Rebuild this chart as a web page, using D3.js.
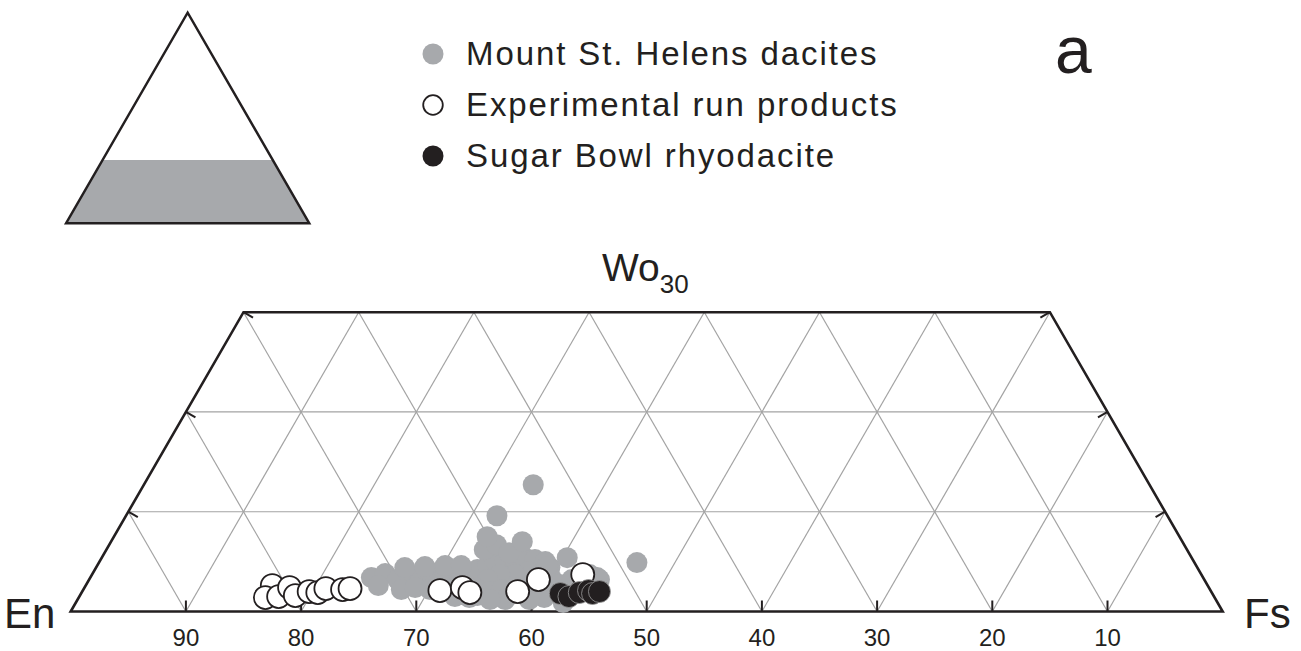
<!DOCTYPE html>
<html>
<head>
<meta charset="utf-8">
<script src="https://cdn.jsdelivr.net/npm/d3@7"></script>
<style>
  body{margin:0;background:#fff;}
  svg text{font-family:"Liberation Sans",Arial,Helvetica,sans-serif;fill:#231f20;}
</style>
</head>
<body>
<svg id="chart" width="1301" height="651"></svg>
<script>
// pyroxene compositions, [En, Wo] in mol% (Fs = 100 - En - Wo)
const mshDacites = [
  [72.2,3.4],[70.8,3.8],[70.0,3.2],[68.8,3.6],[70.2,2.2],[68.0,3.4],[66.8,3.7],[65.8,3.5],
  [64.7,4.0],[63.9,3.8],[68.9,2.4],[67.7,2.2],[66.3,2.4],[65.0,2.7],[63.8,3.2],[62.6,4.2],
  [61.5,4.6],[60.6,5.2],[59.8,5.0],[58.8,5.2],[57.9,5.4],[57.1,5.2],[56.3,5.0],[56.2,4.4],
  [57.4,3.7],[58.3,4.0],[59.6,3.7],[60.9,3.7],[62.2,3.2],[63.7,2.4],[65.2,1.7],[63.9,1.6],
  [62.6,2.0],[61.5,2.2],[60.3,2.4],[59.2,2.2],[58.1,2.4],[56.6,3.2],[56.2,2.7],[54.9,3.2],
  [54.7,2.2],[53.7,2.4],[53.2,2.0],[56.4,1.4],[58.2,1.4],[59.6,1.2],[61.7,1.2],[63.0,1.2],
  [64.7,1.4],[65.9,1.5],[53.1,3.7],[61.0,6.2],[59.7,6.7],[59.0,5.9],[57.3,7.0],[60.1,7.5],
  [52.5,3.2],[56.8,0.9],[52.6,3.4],[56.4,4.5],[72.0,2.6],[68.8,4.4],[67.0,4.5],[65.2,4.6],
  [63.8,4.6],[53.5,12.7],[58.2,9.6],[54.2,5.4],[48.4,4.9]
];
const expRuns = [
  [81.2,2.6],[82.4,1.4],[81.2,1.5],[79.8,2.4],[79.7,1.6],[78.3,2.0],[77.6,1.9],[76.7,2.3],
  [75.3,2.2],[74.6,2.3],[66.9,2.1],[64.8,2.4],[64.4,1.9],[60.2,2.0],[57.8,3.2],[53.7,3.7]
];
const sugarBowl = [
  [56.6,1.8],[56.0,1.5],[54.9,1.9],[54.0,2.1],[53.8,1.8],[53.1,2.0]
];
const enTicks = [90,80,70,60,50,40,30,20,10];
const woGrid = [10,20];
const woEdgeTicks = [10,20,30];
const woMax = 30;
const legendLabels = ["Mount St. Helens dacites","Experimental run products","Sugar Bowl rhyodacite"];

const ink = "#231f20", grey = "#a7a9ac", gridCol = "#a3a3a3";
const svg = d3.select("#chart");
const r3 = Math.sqrt(3)/2;

// main quadrilateral
const side = 1152, x0 = 70.7, y0 = 611.5;
const xS = d3.scaleLinear().domain([0,100]).range([x0, x0+side]);
const yS = d3.scaleLinear().domain([0,100]).range([y0, y0-side*r3]);
const proj = (en,wo)=>{const fs=100-en-wo; return [xS(fs+wo/2), yS(wo)];};
const line = d3.line();

const g = svg.append("g");
// grid
const gridLines = [];
enTicks.forEach(en=>{
  const fs = 100-en;
  gridLines.push([proj(en,0), proj(en, Math.min(woMax, 100-en))]);          // constant En
  gridLines.push([proj(100-fs,0), proj(100-fs-Math.min(woMax,100-fs), Math.min(woMax,100-fs))]); // constant Fs
});
woGrid.forEach(wo=>gridLines.push([proj(100-wo,wo), proj(0,wo)]));
g.selectAll("path.grid").data(gridLines).join("path").attr("class","grid")
  .attr("d",d=>line(d)).attr("stroke",gridCol).attr("stroke-width",1.2).attr("fill","none");

// ticks
const tl = 11;
const ticks = [];
enTicks.forEach(en=>{const p=proj(en,0); ticks.push([p,[p[0],p[1]-tl]]);});
woEdgeTicks.forEach(wo=>{
  const a=proj(100-wo,wo); ticks.push([a,[a[0]+tl*r3,a[1]+tl*0.5]]);
  const b=proj(0,wo); ticks.push([b,[b[0]-tl*r3,b[1]+tl*0.5]]);
});
g.selectAll("path.tick").data(ticks).join("path").attr("class","tick")
  .attr("d",d=>line(d)).attr("stroke",ink).attr("stroke-width",2).attr("fill","none");

// border
g.append("path")
  .attr("d", line([proj(100,0), proj(100-woMax,woMax), proj(0,woMax), proj(0,0)])+"Z")
  .attr("fill","none").attr("stroke",ink).attr("stroke-width",2.6).attr("stroke-linejoin","miter");

// points
g.selectAll("circle.msh").data(mshDacites).join("circle").attr("class","msh")
  .attr("cx",d=>proj(d[0],d[1])[0]).attr("cy",d=>proj(d[0],d[1])[1]).attr("r",10.5).attr("fill",grey);
g.selectAll("circle.exp").data(expRuns).join("circle").attr("class","exp")
  .attr("cx",d=>proj(d[0],d[1])[0]).attr("cy",d=>proj(d[0],d[1])[1]).attr("r",11.5)
  .attr("fill","#fff").attr("stroke",ink).attr("stroke-width",1.8);
g.selectAll("circle.sb").data(sugarBowl).join("circle").attr("class","sb")
  .attr("cx",d=>proj(d[0],d[1])[0]).attr("cy",d=>proj(d[0],d[1])[1]).attr("r",11)
  .attr("fill",ink).attr("stroke","#9a9a9a").attr("stroke-width",0.8);

// tick labels
g.selectAll("text.tl").data(enTicks).join("text").attr("class","tl")
  .attr("x",d=>proj(d,0)[0]).attr("y",646).attr("text-anchor","middle")
  .attr("font-size",24).text(d=>d);

// apex labels
svg.append("text").attr("x",4).attr("y",628).attr("font-size",42).text("En");
svg.append("text").attr("x",1244).attr("y",628).attr("font-size",42).text("Fs");
const wo = svg.append("text").attr("x",602).attr("y",281).attr("font-size",39);
wo.append("tspan").text("Wo");
wo.append("tspan").attr("font-size",26).attr("dy",12).text(woMax);

// panel label
svg.append("text").attr("x",1055).attr("y",73).attr("font-size",66).text("a");

// inset triangle
const ixS = d3.scaleLinear().domain([0,100]).range([66,309.3]);
const iyS = d3.scaleLinear().domain([0,100]).range([223.3, 223.3-243.3*r3]);
const ip = (en,wo)=>{const fs=100-en-wo; return [ixS(fs+wo/2), iyS(wo)];};
svg.append("path").attr("d", line([ip(100,0), ip(100-woMax,woMax), ip(0,woMax), ip(0,0)])+"Z")
  .attr("fill",grey).attr("stroke","none");
svg.append("path").attr("d", line([ip(100,0), ip(0,100), ip(0,0)])+"Z")
  .attr("fill","none").attr("stroke",ink).attr("stroke-width",2.4).attr("stroke-linejoin","miter");

// legend
const leg = svg.append("g");
const legStyles = [
  {fill:grey, stroke:"none", sw:0, r:10.5},
  {fill:"#fff", stroke:ink, sw:1.8, r:9.8},
  {fill:ink, stroke:"none", sw:0, r:10.5}
];
legendLabels.forEach((t,i)=>{
  const y = 65 + i*51;
  leg.append("circle").attr("cx",433).attr("cy",y-11).attr("r",legStyles[i].r)
    .attr("fill",legStyles[i].fill).attr("stroke",legStyles[i].stroke).attr("stroke-width",legStyles[i].sw);
  leg.append("text").attr("x",466).attr("y",y).attr("font-size",33)
    .attr("letter-spacing",1.9).text(t);
});
</script>
</body>
</html>
